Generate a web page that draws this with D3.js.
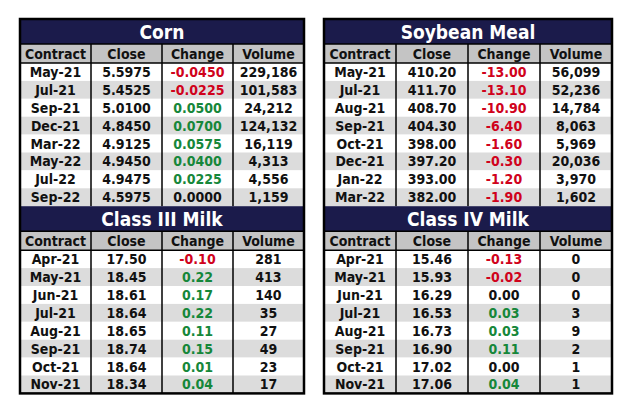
<!DOCTYPE html>
<html><head><meta charset="utf-8">
<script src="https://cdn.jsdelivr.net/npm/d3@7"></script>
<style>body{margin:0;background:#fff}</style>
</head><body>
<svg id="chart" width="630" height="414"></svg>
<script>
const columns = ["Contract", "Close", "Change", "Volume"];

const cornContracts = ["May-21","Jul-21","Sep-21","Dec-21","Mar-22","May-22","Jul-22","Sep-22"];
const cornClose = ["5.5975","5.4525","5.0100","4.8450","4.9125","4.9450","4.9475","4.5975"];
const cornChange = ["-0.0450","-0.0225","0.0500","0.0700","0.0575","0.0400","0.0225","0.0000"];
const cornVolume = ["229,186","101,583","24,212","124,132","16,119","4,313","4,556","1,159"];

const soyContracts = ["May-21","Jul-21","Aug-21","Sep-21","Oct-21","Dec-21","Jan-22","Mar-22"];
const soyClose = ["410.20","411.70","408.70","404.30","398.00","397.20","393.00","382.00"];
const soyChange = ["-13.00","-13.10","-10.90","-6.40","-1.60","-0.30","-1.20","-1.90"];
const soyVolume = ["56,099","52,236","14,784","8,063","5,969","20,036","3,970","1,602"];

const milk3Contracts = ["Apr-21","May-21","Jun-21","Jul-21","Aug-21","Sep-21","Oct-21","Nov-21"];
const milk3Close = ["17.50","18.45","18.61","18.64","18.65","18.74","18.64","18.34"];
const milk3Change = ["-0.10","0.22","0.17","0.22","0.11","0.15","0.01","0.04"];
const milk3Volume = ["281","413","140","35","27","49","23","17"];

const milk4Contracts = ["Apr-21","May-21","Jun-21","Jul-21","Aug-21","Sep-21","Oct-21","Nov-21"];
const milk4Close = ["15.46","15.93","16.29","16.53","16.73","16.90","17.02","17.06"];
const milk4Change = ["-0.13","-0.02","0.00","0.03","0.03","0.11","0.00","0.04"];
const milk4Volume = ["0","0","0","3","9","2","1","1"];

const svg = d3.select("#chart");
const font = "'DejaVu Sans Condensed', 'Liberation Sans Narrow', sans-serif";

function drawTable(title, contracts, close, change, volume, x0, x1, y0) {
  const titleH = 25, headH = 19, rowH = 17.9;
  const g = svg.append("g");
  const x = d3.scaleBand().domain(columns).range([x0, x1]);
  const rows = contracts.map((c, i) => [c, close[i], change[i], volume[i]]);
  const y = d3.scaleBand().domain(d3.range(rows.length)).range([y0 + titleH + headH, y0 + titleH + headH + rowH * rows.length]);

  g.append("rect").attr("x", x0).attr("y", y0).attr("width", x1 - x0).attr("height", titleH).attr("fill", "#1b1b4b");
  g.append("text").attr("x", (x0 + x1) / 2).attr("y", y0 + titleH / 2 + 7)
    .attr("text-anchor", "middle").attr("fill", "#fff").attr("font-family", font)
    .attr("font-weight", "bold").attr("font-size", 19).text(title);

  g.append("rect").attr("x", x0).attr("y", y0 + titleH).attr("width", x1 - x0).attr("height", headH).attr("fill", "#c4c4c4");
  g.selectAll(".h").data(columns).join("text")
    .attr("x", d => x(d) + x.bandwidth() / 2).attr("y", y0 + titleH + headH / 2 + 5)
    .attr("text-anchor", "middle").attr("font-family", font).attr("font-weight", "bold")
    .attr("font-size", 14).attr("fill", "#111").text(d => d);

  g.selectAll(".r").data(rows).join("rect")
    .attr("x", x0).attr("y", (d, i) => y(i)).attr("width", x1 - x0).attr("height", y.bandwidth())
    .attr("fill", (d, i) => i % 2 ? "#dcdcdc" : "#fff");

  rows.forEach((r, i) => {
    g.selectAll(null).data(r).join("text")
      .attr("x", (d, j) => x(columns[j]) + x.bandwidth() / 2)
      .attr("y", y(i) + y.bandwidth() / 2 + 5)
      .attr("text-anchor", "middle").attr("font-family", font).attr("font-weight", "bold")
      .attr("font-size", 14)
      .attr("fill", (d, j) => j !== 2 ? "#111" : (+d < 0 ? "#d0021b" : (+d > 0 ? "#16873a" : "#111")))
      .text(d => d);
  });

  const bottom = y.range()[1];
  g.selectAll(".v").data(columns.slice(1)).join("line")
    .attr("x1", d => x(d)).attr("x2", d => x(d))
    .attr("y1", y0 + titleH).attr("y2", bottom)
    .attr("stroke", "#000").attr("stroke-width", 1.5);
  g.append("line").attr("x1", x0).attr("x2", x1).attr("y1", y0 + titleH).attr("y2", y0 + titleH).attr("stroke", "#000").attr("stroke-width", 1.5);
  g.append("line").attr("x1", x0).attr("x2", x1).attr("y1", y0 + titleH + headH).attr("y2", y0 + titleH + headH).attr("stroke", "#000").attr("stroke-width", 1.5);
  return bottom;
}

function drawColumn(x0, x1, a, b) {
  const top = 19;
  const mid = drawTable(a[0], a[1], a[2], a[3], a[4], x0, x1, top);
  const bottom = drawTable(b[0], b[1], b[2], b[3], b[4], x0, x1, mid);
  svg.append("rect").attr("x", x0).attr("y", top).attr("width", x1 - x0).attr("height", bottom - top)
    .attr("fill", "none").attr("stroke", "#000").attr("stroke-width", 2.5);
}

drawColumn(20, 304,
  ["Corn", cornContracts, cornClose, cornChange, cornVolume],
  ["Class III Milk", milk3Contracts, milk3Close, milk3Change, milk3Volume]);
drawColumn(324, 612,
  ["Soybean Meal", soyContracts, soyClose, soyChange, soyVolume],
  ["Class IV Milk", milk4Contracts, milk4Close, milk4Change, milk4Volume]);
</script>
</body></html>
